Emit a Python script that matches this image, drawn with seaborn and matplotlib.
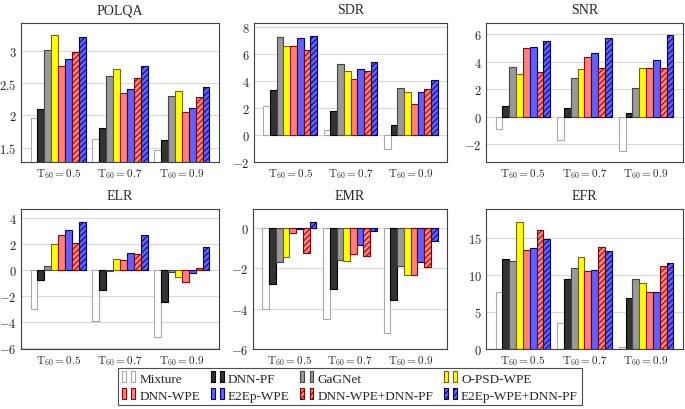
import numpy as np
import pandas as pd
import matplotlib.pyplot as plt
import seaborn as sns
from matplotlib.patches import Patch
from matplotlib.legend_handler import HandlerTuple
from matplotlib.ticker import FuncFormatter

# methods and reverberation conditions
methods = ['Mixture', 'DNN-PF', 'GaGNet', 'O-PSD-WPE', 'DNN-WPE', 'E2Ep-WPE',
           'DNN-WPE+DNN-PF', 'E2Ep-WPE+DNN-PF']
t60 = ['0.5', '0.7', '0.9']
xlabels = [r'$\mathrm{T}_{60} = ' + t + '$' for t in t60]

# one row per T60 value, one entry per method
polqa = [[1.96, 2.10, 3.01, 3.25, 2.76, 2.88, 2.98, 3.21],
         [1.63, 1.81, 2.61, 2.72, 2.34, 2.41, 2.58, 2.76],
         [1.46, 1.62, 2.30, 2.38, 2.05, 2.11, 2.29, 2.44]]
sdr = [[2.17, 3.35, 7.28, 6.60, 6.60, 7.17, 6.28, 7.32],
       [0.37, 1.80, 5.28, 4.76, 4.17, 4.86, 4.71, 5.40],
       [-1.05, 0.74, 3.49, 3.20, 2.32, 3.20, 3.44, 4.05]]
snr = [[-0.92, 0.80, 3.58, 3.07, 4.98, 5.08, 3.22, 5.47],
       [-1.72, 0.60, 2.80, 3.46, 4.30, 4.60, 3.50, 5.68],
       [-2.49, 0.27, 2.10, 3.50, 3.55, 4.08, 3.55, 5.95]]
elr = [[-3.00, -0.77, 0.30, 1.97, 2.70, 3.06, 2.05, 3.72],
       [-3.97, -1.51, -0.10, 0.85, 0.79, 1.30, 1.26, 2.67],
       [-5.18, -2.46, -0.18, -0.54, -0.95, -0.23, 0.15, 1.75]]
emr = [[-4.00, -2.78, -1.70, -1.44, -0.25, -0.05, -1.21, 0.30],
       [-4.50, -3.04, -1.59, -1.64, -1.27, -0.86, -1.36, -0.12],
       [-5.20, -3.59, -1.87, -2.31, -2.31, -1.70, -1.95, -0.64]]
efr = [[7.75, 12.1, 11.9, 17.1, 13.4, 13.7, 16.0, 14.9],
       [3.47, 9.46, 10.9, 12.4, 10.5, 10.6, 13.8, 13.2],
       [0.22, 6.85, 9.40, 8.90, 7.70, 7.70, 11.2, 11.6]]

panels = [('POLQA', polqa, (1.28, 3.43), [1.5, 2, 2.5, 3]),
          ('SDR', sdr, (-2, 8.3), [-2, 0, 2, 4, 6, 8]),
          ('SNR', snr, (-3.3, 6.8), [-2, 0, 2, 4, 6]),
          ('ELR', elr, (-6.1, 4.7), [-6, -4, -2, 0, 2, 4]),
          ('EMR', emr, (-6, 0.95), [-6, -4, -2, 0]),
          ('EFR', efr, (0, 18.9), [0, 5, 10, 15])]

fills = ['#ffffff', '#333333', '#999999', '#ffff00', '#ff8080', '#6060ff', '#ff8080', '#6060ff']
edges = ['#a8a8a8', '#000000', '#444444', '#7a6400', '#a00000', '#000080', '#800000', '#000060']
hatches = [None, None, None, None, None, None, '//////', '//////']

sns.set_theme(style='whitegrid')
plt.rcParams['font.family'] = ['Liberation Serif', 'DejaVu Serif']
plt.rcParams['mathtext.fontset'] = 'cm'
plt.rcParams['hatch.linewidth'] = 0.7

W, H = 685, 410
fig = plt.figure(figsize=(W / 100, H / 100), dpi=100)

# axes boxes in pixels: left, top, right, bottom
boxes = [(21, 24, 219, 163), (254, 24, 447, 163), (486, 24, 683, 163),
         (21, 210, 219, 350), (253, 210, 447, 350), (486, 210, 683, 350)]

fmt = FuncFormatter(lambda v, p: f'${v:g}$')

for (title, vals, ylim, yticks), (l, t, r, b) in zip(panels, boxes):
    ax = fig.add_axes([l / W, 1 - b / H, (r - l) / W, (b - t) / H])
    df = pd.DataFrame(vals, index=t60, columns=methods).reset_index()
    df = df.melt(id_vars='index', var_name='method', value_name='value')
    sns.barplot(data=df, x='index', y='value', hue='method', hue_order=methods,
                palette=fills, width=0.89, gap=0, ax=ax, legend=False,
                saturation=1, err_kws={'linewidth': 0})
    for i, cont in enumerate(ax.containers):
        for bar in cont:
            bar.set_edgecolor(edges[i])
            bar.set_linewidth(0.8)
            if hatches[i]:
                bar.set_hatch(hatches[i])
    ax.set_xlim(-0.6, 2.6)
    ax.set_ylim(*ylim)
    ax.set_yticks(yticks)
    ax.yaxis.set_major_formatter(fmt)
    ax.set_xticks(range(3))
    ax.set_xticklabels(xlabels)
    ax.set_xlabel('')
    ax.set_ylabel('')
    ax.set_title(title, fontsize=10, pad=7)
    ax.tick_params(axis='y', length=0, labelsize=9, pad=3)
    ax.tick_params(axis='x', length=0, labelsize=8, pad=3)
    ax.grid(axis='x', visible=False)
    ax.grid(axis='y', color='#d8d8d8', linewidth=0.8)
    ax.set_axisbelow(True)
    for s in ax.spines.values():
        s.set_color('#404040')
        s.set_linewidth(0.8)

# legend with two small boxes per entry, like pgfplots
handles = []
for i in range(len(methods)):
    p = Patch(facecolor=fills[i], edgecolor=edges[i], hatch=hatches[i], linewidth=0.8)
    q = Patch(facecolor=fills[i], edgecolor=edges[i], hatch=hatches[i], linewidth=0.8)
    handles.append((p, q))
order = [0, 4, 1, 5, 2, 6, 3, 7]
leg = fig.legend([handles[i] for i in order], [methods[i] for i in order],
                 handler_map={tuple: HandlerTuple(ndivide=None, pad=0.4)},
                 ncol=4, loc='center', bbox_to_anchor=(350 / W, 1 - 387.5 / H),
                 fontsize=9.5, frameon=True, fancybox=False, edgecolor='#202020',
                 handlelength=1.0, handleheight=0.9, handletextpad=0.3,
                 columnspacing=0.8, labelspacing=0.3, borderpad=0.3)
leg.get_frame().set_linewidth(0.8)

fig.savefig('out.png', dpi=100)
